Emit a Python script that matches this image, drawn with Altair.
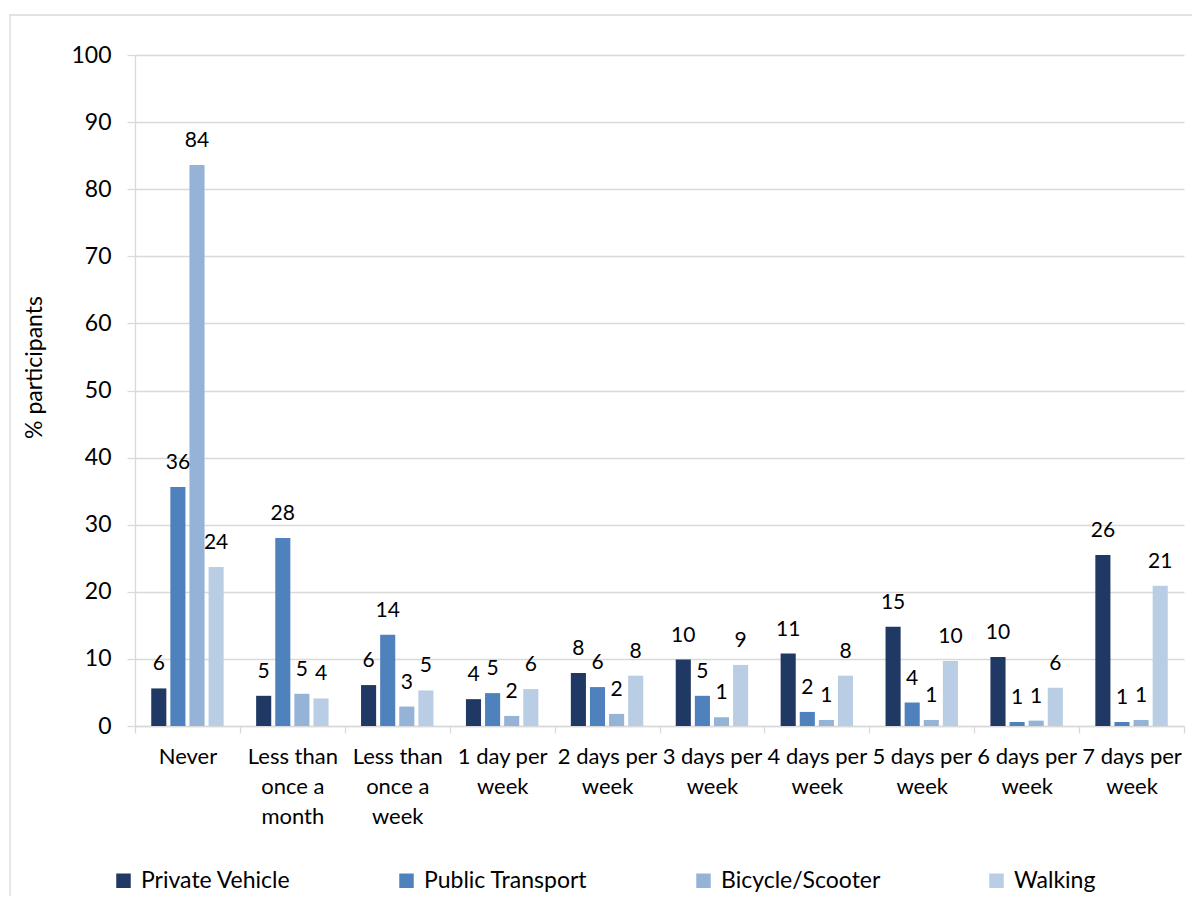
import altair as alt
import pandas as pd

categories = ["Never", "Less than once a month", "Less than once a week",
              "1 day per week", "2 days per week", "3 days per week",
              "4 days per week", "5 days per week", "6 days per week",
              "7 days per week"]
label_lines = [["Never"], ["Less than", "once a", "month"], ["Less than", "once a", "week"],
               ["1 day per", "week"], ["2 days per", "week"], ["3 days per", "week"],
               ["4 days per", "week"], ["5 days per", "week"], ["6 days per", "week"],
               ["7 days per", "week"]]
series = ["Private Vehicle", "Public Transport", "Bicycle/Scooter", "Walking"]
colors = ["#203864", "#4f81bd", "#95b3d7", "#b9cde5"]

private_vehicle = [5.6, 4.5, 6.1, 4.0, 7.9, 9.9, 10.8, 14.8, 10.3, 25.5]
public_transport = [35.6, 28.0, 13.6, 4.9, 5.8, 4.5, 2.1, 3.5, 0.6, 0.6]
bicycle_scooter = [83.6, 4.8, 2.9, 1.5, 1.8, 1.3, 0.9, 0.9, 0.8, 0.9]
walking = [23.7, 4.1, 5.3, 5.5, 7.5, 9.1, 7.5, 9.7, 5.7, 20.9]
y_ticks = list(range(0, 101, 10))

rows = []
for s, vals in zip(series, [private_vehicle, public_transport, bicycle_scooter, walking]):
    for c, v in zip(categories, vals):
        rows.append({"category": c, "series": s, "value": v})
df = pd.DataFrame(rows)

# multi-line category labels
expr = "datum.value"
for c, lines in reversed(list(zip(categories, label_lines))):
    arr = "[" + ",".join("'" + l + "'" for l in lines) + "]"
    expr = f"datum.value === '{c}' ? {arr} : ({expr})"

FONT = "Lato"
GRID = "#d9d9d9"

x_enc = alt.X("category:N", sort=categories,
              scale=alt.Scale(paddingInner=0, paddingOuter=0),
              axis=alt.Axis(title=None, labelAngle=0, tickBand="extent", ticks=True,
                            tickSize=7, tickColor=GRID, domainColor=GRID, domainWidth=1.3,
                            tickWidth=1.3, labelFont=FONT, labelFontSize=22,
                            labelColor="black", labelLineHeight=30, labelPadding=13,
                            labelBaseline="top", labelExpr=expr, labelOverlap=False,
                            grid=False))
xoff_enc = alt.XOffset("series:N", sort=series,
                       scale=alt.Scale(paddingInner=0.21, paddingOuter=0.85))
y_enc = alt.Y("value:Q", scale=alt.Scale(domain=[0, 100], nice=False),
              axis=alt.Axis(values=y_ticks, title="% participants", grid=True,
                            gridColor=GRID, gridWidth=1.3, domainColor=GRID, domainWidth=1.3,
                            tickColor=GRID, tickWidth=1.3, tickSize=8,
                            labelFont=FONT, labelFontSize=23, labelColor="black",
                            labelPadding=16, titleFont=FONT, titleFontSize=23,
                            titleFontWeight="normal", titleColor="black",
                            titleAngle=270, titleX=-101, titleY=312,
                            titleBaseline="middle", titleAlign="center"))

bars = alt.Chart(df).mark_bar().encode(
    x=x_enc, xOffset=xoff_enc, y=y_enc,
    color=alt.Color("series:N", sort=series,
                    scale=alt.Scale(domain=series, range=colors),
                    legend=alt.Legend(title=None, orient="none", legendX=-23, legendY=814,
                                      direction="horizontal", columns=4, columnPadding=104,
                                      symbolType="square", symbolSize=210,
                                      symbolStrokeWidth=0, labelFont=FONT,
                                      labelFontSize=23, labelColor="black",
                                      labelOffset=6, padding=0, labelLimit=300)),
)

labels = alt.Chart(df).mark_text(dy=-18, baseline="alphabetic", fontSize=21,
                                 font=FONT, color="black").encode(
    x=alt.X("category:N", sort=categories), xOffset=alt.XOffset("series:N", sort=series),
    y=alt.Y("value:Q"), text=alt.Text("value:Q", format=".0f"))

frame = alt.Chart(pd.DataFrame({"a": [0]})).mark_rect(
    fillOpacity=0, stroke=GRID, strokeWidth=1.3).encode(
    x=alt.value(-125), x2=alt.value(1080), y=alt.value(-40), y2=alt.value(880))

chart = alt.layer(frame, bars, labels).properties(
    width=1049, height=671,
    autosize=alt.AutoSizeParams(type="none"),
    padding={"left": 127, "top": 47, "right": 8, "bottom": 170},
    background="white",
).configure_view(stroke="transparent")

chart.save("out.html", embed_options={"renderer": "svg", "actions": False})
